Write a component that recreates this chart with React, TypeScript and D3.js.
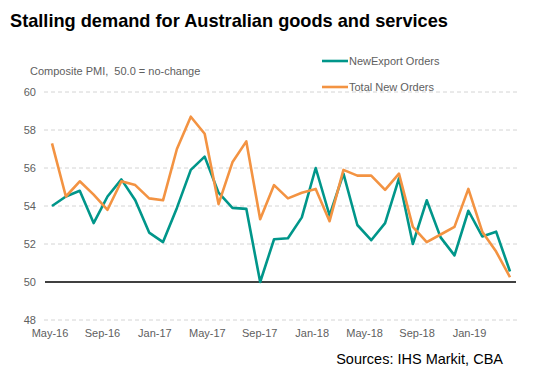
import React from "react";
import * as d3 from "d3";

const months: string[] = [
  "May-16","Jun-16","Jul-16","Aug-16","Sep-16","Oct-16","Nov-16","Dec-16",
  "Jan-17","Feb-17","Mar-17","Apr-17","May-17","Jun-17","Jul-17","Aug-17",
  "Sep-17","Oct-17","Nov-17","Dec-17","Jan-18","Feb-18","Mar-18","Apr-18",
  "May-18","Jun-18","Jul-18","Aug-18","Sep-18","Oct-18","Nov-18","Dec-18",
  "Jan-19","Feb-19",
];

const exportOrders: number[] = [
  54.0, 54.5, 54.8, 53.1, 54.5, 55.4, 54.3, 52.6, 52.1, 53.9,
  55.9, 56.6, 54.7, 53.9, 53.85, 50.0, 52.25, 52.3, 53.4, 56.0,
  53.5, 55.7, 53.0, 52.2, 53.1, 55.45, 52.0, 54.3, 52.35, 51.4,
  53.75, 52.4, 52.65, 50.55,
];

const totalNewOrders: number[] = [
  57.3, 54.5, 55.3, 54.6, 53.8, 55.3, 55.1, 54.4, 54.3, 57.0,
  58.7, 57.8, 54.1, 56.3, 57.4, 53.3, 55.1, 54.4, 54.7, 54.9,
  53.2, 55.9, 55.6, 55.6, 54.85, 55.7, 52.9, 52.1, 52.5, 52.9,
  54.9, 52.65, 51.6, 50.25,
];

const xTickLabels: string[] = [
  "May-16","Sep-16","Jan-17","May-17","Sep-17","Jan-18","May-18","Sep-18","Jan-19",
];

const yTicks: number[] = [48, 50, 52, 54, 56, 58, 60];

const TEAL = "#00968a";
const ORANGE = "#f39342";
const GRAY_TEXT = "#606060";

export default function App() {
  const W = 552, H = 379;
  const plotLeft = 44, plotRight = 517;

  const y = d3.scaleLinear().domain([48, 60]).range([320, 92]);
  const x = d3.scaleLinear().domain([0, months.length - 1]).range([52, 510]);
  const xLabel = d3.scalePoint<string>().domain(xTickLabels).range([50, 469.5]);

  const line = d3.line<number>()
    .x((_, i) => x(i))
    .y((d) => y(d));

  const font = "Arial, 'Liberation Sans', sans-serif";

  return (
    <svg
      width={W}
      height={H}
      style={{ position: "absolute", left: 0, top: 0, display: "block", background: "#fff" }}
      fontFamily={font}
    >
      <text x={10} y={27} fontSize={18.2} fontWeight="bold" fill="#000">
        Stalling demand for Australian goods and services
      </text>
      <text x={30} y={75} fontSize={11} fill={GRAY_TEXT} style={{ whiteSpace: "pre" }}>
        {"Composite PMI,\u00a0 50.0 = no-change"}
      </text>

      {yTicks.map((t) => (
        <g key={t}>
          {t !== 50 && (
            <line
              x1={plotLeft}
              x2={plotRight}
              y1={y(t)}
              y2={y(t)}
              stroke="#d4d4d4"
              strokeWidth={1}
              strokeDasharray="4,3"
            />
          )}
          <text x={36} y={y(t)} dy="0.35em" fontSize={11} textAnchor="end" fill={GRAY_TEXT}>
            {t}
          </text>
        </g>
      ))}
      <line x1={plotLeft + 1} x2={plotRight - 1} y1={y(50)} y2={y(50)} stroke="#000" strokeWidth={1.5} />

      {xTickLabels.map((l) => (
        <text key={l} x={xLabel(l)} y={337} fontSize={11} textAnchor="middle" fill={GRAY_TEXT}>
          {l}
        </text>
      ))}

      <path d={line(exportOrders) || ""} fill="none" stroke={TEAL} strokeWidth={2.6} strokeLinejoin="round" />
      <path d={line(totalNewOrders) || ""} fill="none" stroke={ORANGE} strokeWidth={2.6} strokeLinejoin="round" />

      <line x1={322} x2={348} y1={61} y2={61} stroke={TEAL} strokeWidth={2.6} />
      <text x={349} y={61} dy="0.35em" fontSize={11} fill={GRAY_TEXT}>NewExport Orders</text>
      <line x1={322} x2={348} y1={87} y2={87} stroke={ORANGE} strokeWidth={2.6} />
      <text x={349} y={87} dy="0.35em" fontSize={11} fill={GRAY_TEXT}>Total New Orders</text>

      <text x={503} y={364} fontSize={14.5} textAnchor="end" fill="#000">
        Sources: IHS Markit, CBA
      </text>
    </svg>
  );
}
